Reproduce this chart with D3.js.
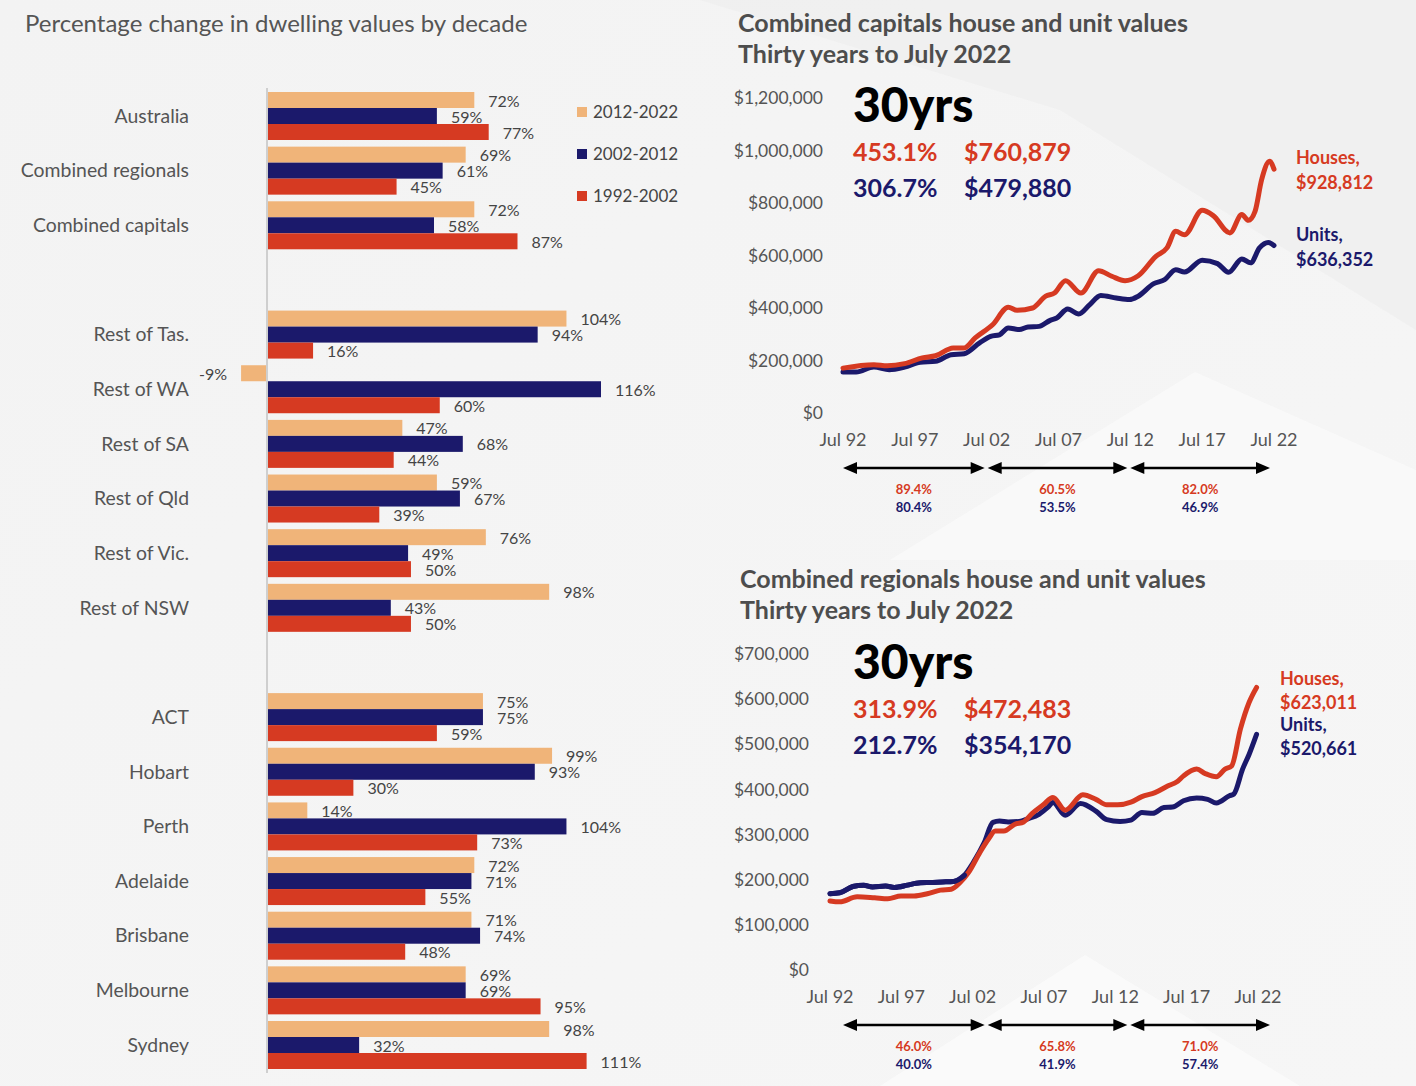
<!DOCTYPE html>
<html><head><meta charset="utf-8">
<script src="https://cdn.jsdelivr.net/npm/d3@7"></script>
<style>
html,body{margin:0;padding:0;background:#f4f4f4;}
svg{display:block;font-family:Lato,"Open Sans",sans-serif;}
</style></head>
<body>
<svg id="c" width="1416" height="1086"></svg>
<script>
// ---------- Bar chart data ----------
const regions = ["Australia","Combined regionals","Combined capitals","",
  "Rest of Tas.","Rest of WA","Rest of SA","Rest of Qld","Rest of Vic.","Rest of NSW"," ",
  "ACT","Hobart","Perth","Adelaide","Brisbane","Melbourne","Sydney"];
const decades = ["2012-2022","2002-2012","1992-2002"];
const decadeColors = ["#F0B479","#1B196B","#D63A22"];
const change2012_2022 = [72,69,72,null,104,-9,47,59,76,98,null,75,99,14,72,71,69,98];
const change2002_2012 = [59,61,58,null,94,116,68,67,49,43,null,75,93,104,71,74,69,32];
const change1992_2002 = [77,45,87,null,16,60,44,39,50,50,null,59,30,73,55,48,95,111];

// ---------- Line chart data (decimal year, value) ----------
const capitalsHouses = [[1992.5,171000],[1994.65,184000],[1995.57,180000],[1996.79,188000],[1998.02,210000],[1998.94,218000],[2000.17,248000],[2000.94,248000],[2001.7,286000],[2002.93,337000],[2004.0,403000],[2004.62,391000],[2005.69,400000],[2006.61,445000],[2007.22,457000],[2007.99,504000],[2009.06,457000],[2010.29,542000],[2011.21,521000],[2012.13,504000],[2013.05,523000],[2014.28,597000],[2015.05,629000],[2015.66,692000],[2016.27,679000],[2017.5,772000],[2018.27,752000],[2019.43,686000],[2020.26,756000],[2020.72,734000],[2021.18,768000],[2021.64,889000],[2022.2,959000],[2022.5,929000]];
const capitalsUnits = [[1992.5,156000],[1993.42,156000],[1994.65,175000],[1995.72,165000],[1996.79,175000],[1997.87,193000],[1998.94,197000],[2000.02,222000],[2000.94,226000],[2002.01,267000],[2002.78,292000],[2003.39,298000],[2004.0,324000],[2004.77,318000],[2005.38,328000],[2006.15,330000],[2006.92,353000],[2007.38,362000],[2008.14,396000],[2008.91,377000],[2009.68,413000],[2010.44,448000],[2011.52,438000],[2012.44,432000],[2013.05,445000],[2014.13,493000],[2014.89,508000],[2015.66,546000],[2016.27,537000],[2017.5,582000],[2018.57,569000],[2019.34,536000],[2020.26,587000],[2020.87,572000],[2021.49,629000],[2022.1,650000],[2022.5,638000]];
const regionalsHouses = [[1992.5,153000],[1993.18,151000],[1994.4,162000],[1995.63,160000],[1996.55,158000],[1997.47,164000],[1998.39,164000],[1999.32,169000],[2000.24,177000],[2001.0,179000],[2001.62,194000],[2002.23,217000],[2003.0,260000],[2003.61,290000],[2004.08,308000],[2004.69,308000],[2005.46,323000],[2006.07,328000],[2006.68,347000],[2007.45,366000],[2008.13,382000],[2008.99,354000],[2010.22,388000],[2011.14,378000],[2011.9,366000],[2012.67,366000],[2013.59,372000],[2014.36,384000],[2015.28,393000],[2016.2,408000],[2016.82,417000],[2017.28,430000],[2018.2,445000],[2018.81,435000],[2019.58,428000],[2020.19,445000],[2020.65,452000],[2021.27,534000],[2021.88,593000],[2022.4,626000]];
const regionalsUnits = [[1992.5,169000],[1993.18,171000],[1994.1,185000],[1994.86,188000],[1995.48,184000],[1996.4,186000],[1997.01,183000],[1997.93,188000],[1998.55,192000],[1999.47,194000],[2000.39,195000],[2001.16,196000],[2001.93,210000],[2002.54,238000],[2003.31,282000],[2003.92,327000],[2004.38,330000],[2004.99,328000],[2005.76,329000],[2006.37,335000],[2007.15,345000],[2007.76,360000],[2008.13,371000],[2008.99,343000],[2010.06,369000],[2011.14,352000],[2011.9,333000],[2012.83,329000],[2013.59,332000],[2014.36,349000],[2015.13,347000],[2015.9,360000],[2016.51,361000],[2017.28,375000],[2018.2,381000],[2018.97,378000],[2019.58,370000],[2020.5,386000],[2020.81,390000],[2021.42,445000],[2021.88,478000],[2022.4,522000]];

const xTickYears = [1992.5,1997.5,2002.5,2007.5,2012.5,2017.5,2022.5];
const xTickLabels = ["Jul 92","Jul 97","Jul 02","Jul 07","Jul 12","Jul 17","Jul 22"];
const capitalsYTicks = [0,200000,400000,600000,800000,1000000,1200000];
const regionalsYTicks = [0,100000,200000,300000,400000,500000,600000,700000];
const capitalsSummary = {housePct:"453.1%", houseGain:"$760,879", unitPct:"306.7%", unitGain:"$479,880", houseEnd:"$928,812", unitEnd:"$636,352"};
const regionalsSummary = {housePct:"313.9%", houseGain:"$472,483", unitPct:"212.7%", unitGain:"$354,170", houseEnd:"$623,011", unitEnd:"$520,661"};
const capitalsDecadeHouses = ["89.4%","60.5%","82.0%"];
const capitalsDecadeUnits = ["80.4%","53.5%","46.9%"];
const regionalsDecadeHouses = ["46.0%","65.8%","71.0%"];
const regionalsDecadeUnits = ["40.0%","41.9%","57.4%"];

const RED = "#D63A22", NAVY = "#1B196B", ORANGE = "#F0B479";
const svg = d3.select("#c");

// ---------- background ----------
const defs = svg.append("defs");
const g1 = defs.append("linearGradient").attr("id","bg").attr("x1","0").attr("y1","0").attr("x2","1").attr("y2","1");
g1.append("stop").attr("offset","0").attr("stop-color","#f3f3f3");
g1.append("stop").attr("offset","1").attr("stop-color","#f6f6f6");
svg.append("rect").attr("width",1416).attr("height",1086).attr("fill","url(#bg)");
svg.append("path").attr("d","M700,0 L1416,0 L1416,330 L1060,110 Z").attr("fill","#ececec").attr("opacity",0.6);
svg.append("path").attr("d","M890,560 L1195,372 L1416,470 L1416,560 Z").attr("fill","#fafafa").attr("opacity",0.8);
svg.append("path").attr("d","M880,1086 L1085,955 L1300,1086 Z").attr("fill","#fbfbfb").attr("opacity",0.9);

// ---------- Left: bar chart ----------
svg.append("text").attr("x",25).attr("y",32).attr("font-size",24).attr("fill","#555")
  .text("Percentage change in dwelling values by decade");

const xb = d3.scaleLinear().domain([0,116]).range([267,601]);
const yb = d3.scaleBand().domain(regions).range([92,1069]).paddingInner(0.1217).paddingOuter(0);
const ys = d3.scaleBand().domain(decades).range([0,yb.bandwidth()]);
const series = [change2012_2022, change2002_2012, change1992_2002];

const barG = svg.append("g");
regions.forEach((r,i)=>{
  if(series[0][i]===null) return;
  const gg = barG.append("g").attr("transform",`translate(0,${yb(r)})`);
  decades.forEach((d,k)=>{
    const v = series[k][i];
    gg.append("rect").attr("x",xb(Math.min(0,v))).attr("y",ys(d))
      .attr("width",Math.abs(xb(v)-xb(0))).attr("height",ys.bandwidth())
      .attr("fill",decadeColors[k]);
    gg.append("text").attr("x", v<0 ? xb(v)-14 : xb(v)+14)
      .attr("y",ys(d)+ys.bandwidth()/2+1).attr("dy","0.35em")
      .attr("text-anchor", v<0 ? "end":"start")
      .attr("font-size",16).attr("fill","#444").text(v+"%");
  });
  svg.append("text").attr("x",189).attr("y",yb(r)+yb.bandwidth()/2).attr("dy","0.35em")
    .attr("text-anchor","end").attr("font-size",19.4).attr("fill","#555").text(r);
});
svg.append("line").attr("x1",xb(0)).attr("x2",xb(0)).attr("y1",88).attr("y2",1073)
  .attr("stroke","#cfcfcf").attr("stroke-width",2);

// legend
decades.forEach((d,k)=>{
  svg.append("rect").attr("x",577).attr("y",107+k*42).attr("width",10).attr("height",10).attr("fill",decadeColors[k]);
  svg.append("text").attr("x",593).attr("y",112+k*42).attr("dy","0.35em").attr("font-size",17).attr("fill","#444").text(d);
});

// ---------- Right: line charts ----------
function lineChart(o){
  const x = d3.scaleLinear().domain([1992.5,2022.5]).range(o.xr);
  const y = d3.scaleLinear().domain([0,o.ymax]).range(o.yr);
  const g = svg.append("g");
  g.append("text").attr("x",o.tx).attr("y",o.ty).attr("font-size",25).attr("font-weight",700).attr("fill","#4d4d4d").text(o.title);
  g.append("text").attr("x",o.tx).attr("y",o.ty+31).attr("font-size",25).attr("font-weight",700).attr("fill","#4d4d4d").text("Thirty years to July 2022");
  o.yTicks.forEach(t=>{
    g.append("text").attr("x",o.ylx).attr("y",y(t)).attr("dy","0.35em").attr("text-anchor","end")
      .attr("font-size",17.5).attr("fill","#555").text(d3.format("$,")(t));
  });
  xTickYears.forEach((t,i)=>{
    g.append("text").attr("x",x(t)).attr("y",o.xly).attr("dy","0.35em").attr("text-anchor","middle")
      .attr("font-size",18).attr("fill","#555").text(xTickLabels[i]);
  });
  const line = d3.line().x(d=>x(d[0])).y(d=>y(d[1])).curve(d3.curveMonotoneX);
  g.append("path").datum(o.units).attr("d",line).attr("fill","none").attr("stroke",NAVY).attr("stroke-width",5).attr("stroke-linecap","round").attr("stroke-linejoin","round");
  g.append("path").datum(o.houses).attr("d",line).attr("fill","none").attr("stroke",RED).attr("stroke-width",5).attr("stroke-linecap","round").attr("stroke-linejoin","round");
  if(o.unitsOnTop){
    g.append("path").datum(o.units.filter(d=>d[0]<2002.3)).attr("d",line).attr("fill","none").attr("stroke",NAVY).attr("stroke-width",5).attr("stroke-linecap","round");
  }
  // summary
  const s = o.summary;
  g.append("text").attr("x",853).attr("y",o.sy).attr("font-size",48).attr("font-weight",900).attr("fill","#000").text("30yrs");
  g.append("text").attr("x",853).attr("y",o.sy+39).attr("font-size",25).attr("font-weight",700).attr("fill",RED).text(s.housePct);
  g.append("text").attr("x",964).attr("y",o.sy+39).attr("font-size",25).attr("font-weight",700).attr("fill",RED).text(s.houseGain);
  g.append("text").attr("x",853).attr("y",o.sy+75).attr("font-size",25).attr("font-weight",700).attr("fill",NAVY).text(s.unitPct);
  g.append("text").attr("x",964).attr("y",o.sy+75).attr("font-size",25).attr("font-weight",700).attr("fill",NAVY).text(s.unitGain);
  // end labels
  o.endLabels.forEach(l=>{
    g.append("text").attr("x",l.x).attr("y",l.y).attr("dy","0.35em").attr("font-size",18).attr("font-weight",700).attr("fill",l.c).text(l.t);
  });
  // decade arrows (shared positions)
  const xa = d3.scaleLinear().domain([1992.5,2022.5]).range([843,1271]);
  for(let k=0;k<3;k++){
    const a = xa(1992.5+k*10)+ (k===0?0:2), b = xa(2002.5+k*10)-1;
    g.append("line").attr("x1",a+8).attr("x2",b-8).attr("y1",o.ay).attr("y2",o.ay).attr("stroke","#000").attr("stroke-width",2.5);
    g.append("path").attr("d",`M${a},${o.ay} L${a+14},${o.ay-6} L${a+14},${o.ay+6} Z`).attr("fill","#000");
    g.append("path").attr("d",`M${b},${o.ay} L${b-14},${o.ay-6} L${b-14},${o.ay+6} Z`).attr("fill","#000");
    const m = (a+b)/2;
    g.append("text").attr("x",m).attr("y",o.ay+21).attr("dy","0.35em").attr("text-anchor","middle").attr("font-size",13).attr("font-weight",700).attr("fill",RED).text(o.decH[k]);
    g.append("text").attr("x",m).attr("y",o.ay+39).attr("dy","0.35em").attr("text-anchor","middle").attr("font-size",13).attr("font-weight",700).attr("fill",NAVY).text(o.decU[k]);
  }
}

lineChart({title:"Combined capitals house and unit values", tx:738, ty:32,
  xr:[843,1274], yr:[413,98], ymax:1200000, yTicks:capitalsYTicks, ylx:823, xly:440,
  houses:capitalsHouses, units:capitalsUnits, summary:capitalsSummary, sy:122,
  endLabels:[{x:1296,y:158,t:"Houses,",c:RED},{x:1296,y:183,t:capitalsSummary.houseEnd,c:RED},{x:1296,y:235,t:"Units,",c:NAVY},{x:1296,y:260,t:capitalsSummary.unitEnd,c:NAVY}],
  ay:468, decH:capitalsDecadeHouses, decU:capitalsDecadeUnits});

lineChart({title:"Combined regionals house and unit values", tx:740, ty:588,
  xr:[830,1258], yr:[970,654], ymax:700000, yTicks:regionalsYTicks, ylx:809, xly:997,
  houses:regionalsHouses, units:regionalsUnits, summary:regionalsSummary, sy:679, unitsOnTop:true,
  endLabels:[{x:1280,y:679,t:"Houses,",c:RED},{x:1280,y:703,t:regionalsSummary.houseEnd,c:RED},{x:1280,y:725,t:"Units,",c:NAVY},{x:1280,y:749,t:regionalsSummary.unitEnd,c:NAVY}],
  ay:1025, decH:regionalsDecadeHouses, decU:regionalsDecadeUnits});
</script>
</body></html>
